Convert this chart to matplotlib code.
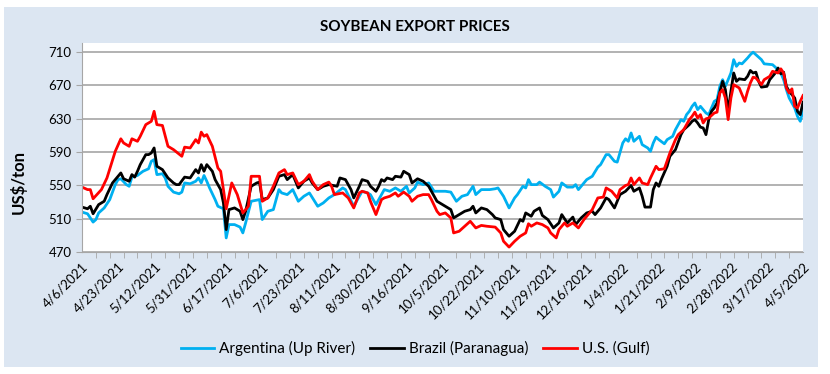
import matplotlib.pyplot as plt
import pandas as pd
from matplotlib.patches import Rectangle

plt.rcParams['font.family'] = ['Lato', 'DejaVu Sans']

# business days on the category axis
dates = pd.bdate_range('2021-04-06', '2022-04-05')
tick_labels = ['%d/%d/%d' % (d.month, d.day, d.year) for d in dates[::13]]

# Argentina (Up River): business-day number, price
arg_day = [0, 2, 4, 5, 6, 8, 10, 12, 13, 14, 16, 17, 18, 20, 22, 24, 25, 26, 27, 29,
           30, 31, 33, 35, 36, 37, 39, 41, 42, 43, 44, 45, 46, 48, 49, 51, 52, 53, 55, 57,
           58, 59, 61, 64, 65, 67, 69, 71, 72, 74, 76, 78, 80, 82, 85, 87, 89, 91, 94, 95,
           98, 99, 101, 103, 104, 106, 108, 109, 111, 113, 115, 117, 118, 120, 121, 123, 125, 127, 129, 131,
           133, 135, 137, 139, 141, 142, 144, 147, 149, 150, 152, 154, 156, 157, 159, 160, 161, 162, 164, 165,
           167, 169, 170, 172, 173, 175, 177, 178, 179, 180, 182, 184, 186, 187, 189, 190, 192, 193, 195, 196,
           197, 198, 199, 201, 202, 204, 205, 206, 207, 208, 210, 211, 213, 214, 216, 217, 218, 219, 220, 221,
           222, 223, 225, 226, 228, 229, 230, 231, 232, 234, 235, 236, 237, 238, 240, 241, 242, 243, 245, 246,
           249, 250, 252, 253, 254, 255, 257, 258, 259, 260]
arg_price = [518, 516, 506, 509, 517, 523, 533, 551, 557, 558, 551, 549, 560, 562, 567, 570, 579, 581, 563, 564,
             559, 549, 542, 540, 542, 553, 552, 555, 559, 553, 562, 555, 547, 533, 525, 522, 487, 503, 503, 500,
             493, 505, 531, 533, 509, 519, 521, 545, 541, 539, 545, 531, 537, 541, 525, 529, 535, 539, 547, 545,
             525, 531, 543, 541, 539, 527, 539, 545, 543, 547, 543, 549, 541, 547, 554, 551, 553, 543, 543, 543,
             542, 531, 537, 539, 549, 539, 545, 545, 546, 547, 537, 523, 535, 539, 549, 547, 557, 551, 551, 554,
             549, 545, 536, 543, 553, 548, 548, 551, 545, 549, 557, 561, 572, 575, 587, 587, 579, 578, 601, 606,
             603, 613, 603, 609, 599, 595, 591, 601, 608, 605, 600, 605, 609, 617, 629, 627, 635, 639, 645, 649,
             641, 645, 637, 635, 651, 653, 669, 677, 669, 685, 701, 693, 697, 696, 703, 707, 710, 707, 701, 696,
             695, 692, 685, 677, 665, 655, 643, 633, 627, 640]

# Brazil (Paranagua)
bra_day = [0, 2, 3, 4, 6, 8, 9, 11, 13, 14, 15, 17, 18, 19, 20, 21, 23, 24, 25, 26,
           27, 29, 31, 33, 34, 35, 37, 39, 41, 42, 43, 44, 45, 47, 48, 50, 51, 52, 53, 55,
           57, 58, 59, 61, 63, 64, 65, 67, 69, 71, 73, 74, 76, 78, 80, 82, 83, 85, 87, 89,
           92, 93, 95, 97, 98, 100, 101, 103, 104, 106, 107, 108, 109, 110, 112, 113, 115, 116, 118, 119,
           121, 123, 125, 127, 128, 129, 131, 133, 134, 136, 138, 140, 141, 142, 144, 146, 148, 149, 151, 152,
           154, 156, 158, 159, 160, 162, 163, 165, 166, 168, 170, 172, 173, 175, 177, 178, 180, 182, 184, 185,
           187, 189, 190, 192, 194, 196, 198, 199, 201, 202, 203, 205, 206, 207, 208, 209, 211, 212, 214, 216,
           217, 219, 220, 221, 222, 223, 224, 225, 226, 227, 228, 229, 231, 232, 233, 234, 235, 236, 237, 239,
           240, 241, 242, 243, 244, 245, 247, 248, 250, 251, 252, 253, 254, 255, 257, 258, 259, 260]
bra_price = [524, 522, 525, 516, 527, 531, 539, 553, 561, 565, 558, 555, 563, 560, 567, 575, 587, 587, 589, 595,
             573, 569, 559, 553, 551, 551, 560, 559, 569, 565, 575, 567, 575, 567, 557, 545, 529, 497, 521, 523,
             519, 509, 519, 549, 553, 554, 533, 535, 545, 561, 563, 557, 563, 547, 555, 559, 553, 545, 549, 551,
             549, 559, 557, 545, 535, 549, 557, 555, 549, 543, 549, 557, 555, 559, 557, 561, 560, 567, 563, 553,
             558, 555, 549, 537, 531, 529, 525, 521, 511, 515, 519, 521, 525, 517, 523, 521, 515, 511, 509, 497,
             489, 495, 509, 507, 517, 513, 519, 523, 514, 509, 499, 505, 515, 505, 512, 503, 511, 517, 519, 515,
             523, 535, 533, 523, 539, 543, 550, 543, 547, 537, 524, 524, 545, 553, 549, 558, 573, 585, 593, 611,
             617, 623, 627, 629, 625, 620, 619, 611, 629, 639, 643, 649, 675, 665, 639, 663, 685, 675, 678, 677,
             681, 688, 685, 686, 675, 668, 669, 677, 685, 691, 684, 686, 669, 663, 655, 639, 635, 650]

# U.S. (Gulf)
us_day = [0, 2, 3, 4, 7, 9, 12, 14, 15, 17, 18, 20, 21, 23, 25, 26, 27, 29, 31, 33,
          36, 37, 39, 41, 42, 43, 44, 45, 47, 49, 50, 51, 52, 54, 56, 58, 60, 61, 64, 65,
          67, 69, 71, 72, 73, 74, 76, 78, 80, 82, 83, 85, 87, 89, 90, 91, 94, 96, 98, 100,
          101, 103, 104, 106, 108, 109, 111, 113, 114, 116, 118, 119, 121, 123, 125, 126, 128, 129, 131, 133,
          134, 136, 138, 140, 142, 144, 146, 149, 151, 152, 154, 156, 158, 160, 161, 162, 164, 166, 168, 169,
          171, 172, 174, 175, 177, 179, 181, 183, 184, 186, 188, 189, 191, 193, 194, 196, 197, 198, 199, 201,
          202, 204, 205, 207, 208, 210, 212, 214, 215, 217, 219, 220, 221, 222, 223, 224, 225, 226, 228, 229,
          230, 231, 232, 233, 234, 235, 237, 238, 239, 240, 241, 242, 243, 245, 246, 248, 249, 251, 252, 253,
          254, 255, 256, 257, 258, 259, 260]
us_price = [548, 545, 545, 534, 545, 559, 591, 606, 601, 597, 606, 603, 609, 623, 627, 639, 623, 622, 597, 593,
            585, 596, 595, 605, 601, 614, 609, 611, 597, 571, 567, 545, 522, 553, 539, 517, 525, 561, 561, 531,
            535, 549, 565, 567, 569, 563, 565, 551, 555, 563, 555, 545, 551, 554, 549, 539, 541, 535, 523, 541,
            543, 541, 531, 515, 533, 535, 537, 541, 537, 542, 537, 531, 537, 539, 539, 533, 519, 515, 517, 511,
            493, 495, 501, 507, 499, 502, 501, 500, 493, 483, 476, 483, 489, 493, 504, 501, 505, 503, 499, 493,
            487, 497, 505, 501, 505, 499, 509, 517, 521, 535, 536, 547, 543, 535, 545, 550, 551, 559, 551, 559,
            553, 551, 559, 573, 569, 570, 589, 605, 611, 617, 629, 633, 638, 631, 635, 625, 630, 631, 637, 638,
            661, 665, 655, 629, 655, 671, 667, 659, 651, 663, 673, 680, 679, 671, 677, 681, 687, 685, 690, 685,
            667, 661, 666, 645, 643, 651, 658]

fig = plt.figure(figsize=(8.3, 3.74), dpi=100)
bg = Rectangle((0.005, 0.019), 0.981, 0.963, transform=fig.transFigure,
               facecolor='#dce6f2', edgecolor='none', zorder=-10)
fig.add_artist(bg)

ax = fig.add_axes([0.0988, 0.326, 0.8687, 0.559])
ax.set_facecolor('white')

ax.plot(arg_day, arg_price, color='#00b0f0', lw=2, label='Argentina (Up River)')
ax.plot(bra_day, bra_price, color='black', lw=2, label='Brazil (Paranagua)')
ax.plot(us_day, us_price, color='#ff0000', lw=2, label='U.S. (Gulf)')

ax.set_xlim(0, len(dates) - 1)
ax.set_ylim(470, 721)
ax.set_yticks(range(470, 711, 40))
ax.yaxis.grid(True, color='#a6a6a6', lw=1.2)
ax.set_axisbelow(True)

ax.set_xticks(range(0, len(dates), 5), minor=True)
ax.set_xticks(range(0, len(dates), 13))
ax.set_xticklabels(tick_labels, rotation=45, ha='right', rotation_mode='anchor', fontsize=9.5)
ax.tick_params(axis='x', which='major', length=0, pad=6)
ax.tick_params(axis='x', which='minor', length=4, color='#a6a6a6')
ax.tick_params(axis='y', length=4, color='#a6a6a6', labelsize=9.5)

for s in ['top', 'right']:
    ax.spines[s].set_visible(False)
ax.spines['left'].set_color('#a6a6a6')
ax.spines['bottom'].set_color('#a6a6a6')

ax.set_ylabel('US$/ton', fontsize=12, fontweight='bold')
ax.yaxis.set_label_coords(-0.076, 0.335)
fig.text(0.5, 0.928, 'SOYBEAN EXPORT PRICES', ha='center', va='center',
         fontsize=11, fontweight='bold')

fig.legend(loc='center', bbox_to_anchor=(0.5, 0.068), ncol=3, frameon=False,
           fontsize=11, handlelength=2.2, handletextpad=0.3, columnspacing=1.0)

fig.savefig('out.png', dpi=100)
